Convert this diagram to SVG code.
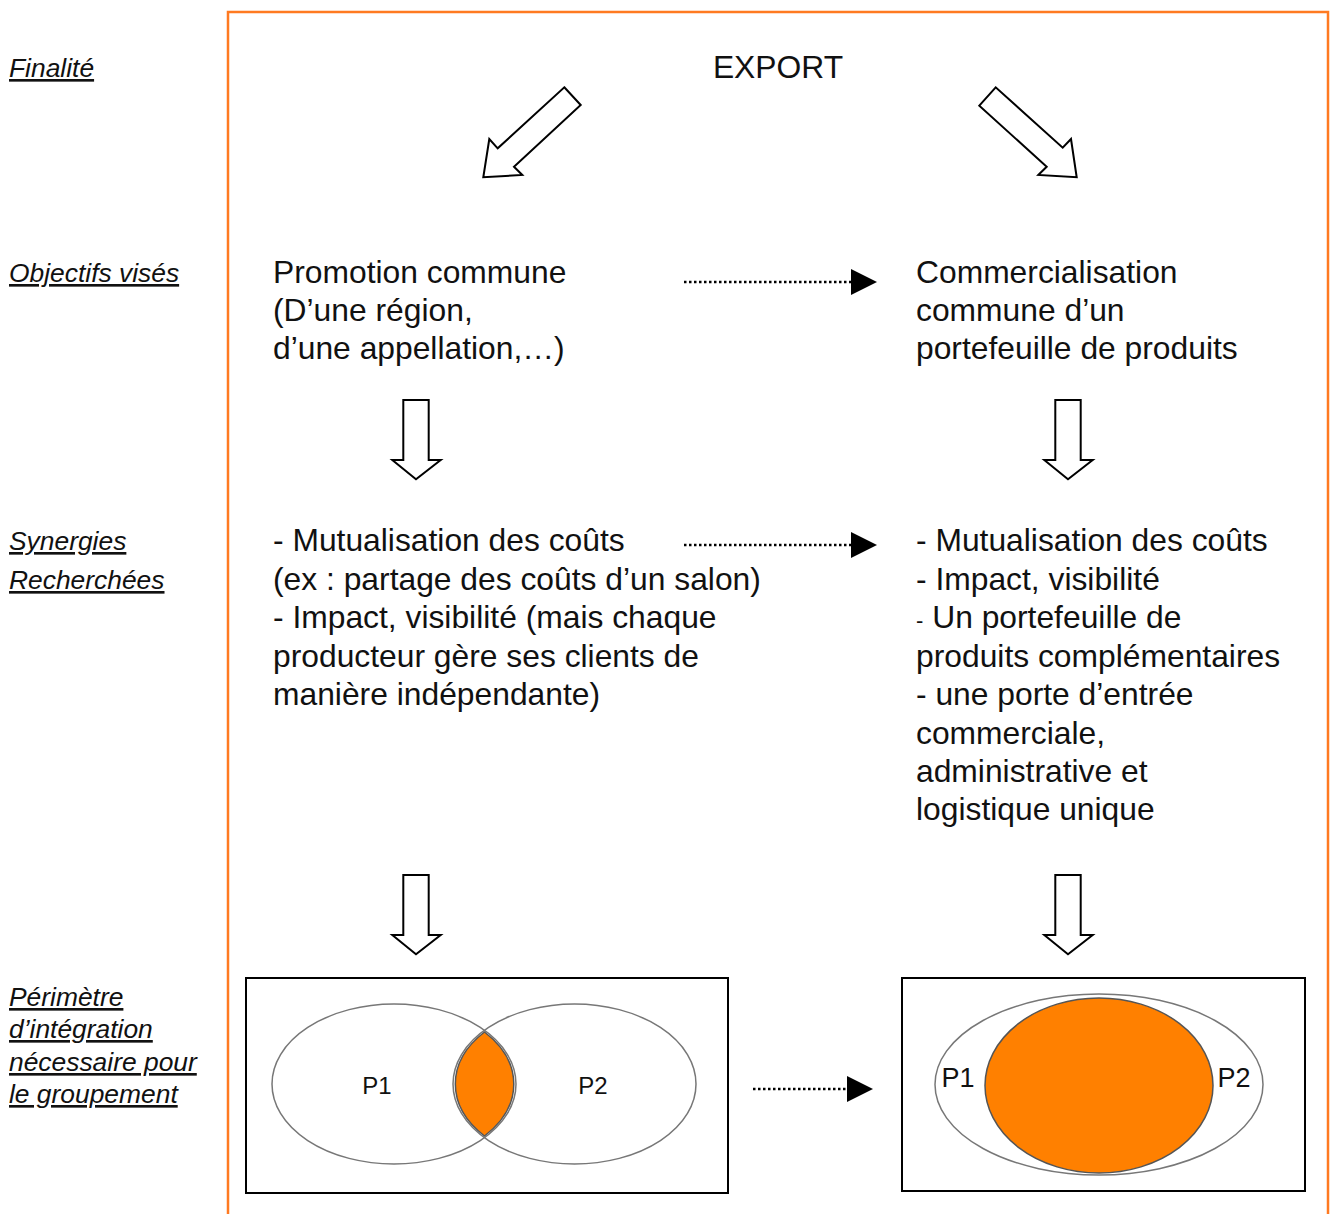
<svg xmlns="http://www.w3.org/2000/svg" width="1333" height="1214" viewBox="0 0 1333 1214">
<style>
.lbl{font-family:"Liberation Sans",Arial,sans-serif;font-size:26.4px;font-style:italic;fill:#111;text-decoration:underline;}
.main{font-family:"Liberation Sans",Arial,sans-serif;font-size:31.8px;fill:#111;}
.p{font-family:"Liberation Sans",Arial,sans-serif;font-size:24px;fill:#111;}
.p2{font-family:"Liberation Sans",Arial,sans-serif;font-size:27px;fill:#111;}
.blk{fill:#fff;stroke:#000;stroke-width:2;stroke-linejoin:miter;}
.dot{fill:none;stroke:#000;stroke-width:2.5;stroke-dasharray:2.5 2.5;}
.box{fill:#fff;stroke:#000;stroke-width:2;}
.ell{fill:none;stroke:#777;stroke-width:1.5;}
.lens{fill:#FF8000;stroke:#555;stroke-width:1.5;}
</style>
<defs>
<marker id="tri" viewBox="0 0 26 26" refX="0" refY="13" markerWidth="26" markerHeight="26" markerUnits="userSpaceOnUse" orient="auto">
<path d="M0,0 L26,13 L0,26 Z" fill="#000"/>
</marker>
</defs>
<rect width="1333" height="1214" fill="#fff"/>
<rect id="frame" x="228" y="12" width="1100" height="1260" fill="none" stroke="#FF7A21" stroke-width="2.5"/>

<g id="labels">
<text class="lbl" x="9" y="77">Finalité</text>
<text class="lbl" x="9" y="282">Objectifs visés</text>
<text class="lbl" x="9" y="550">Synergies</text>
<text class="lbl" x="9" y="589">Recherchées</text>
<text class="lbl" x="9" y="1006">Périmètre</text>
<text class="lbl" x="9" y="1038">d’intégration</text>
<text class="lbl" x="9" y="1071">nécessaire pour</text>
<text class="lbl" x="9" y="1103">le groupement</text>
</g>

<g id="export"><text class="main" x="778" y="78" text-anchor="middle">EXPORT</text></g>

<g id="promotion">
<text class="main" x="273" y="283">Promotion commune</text>
<text class="main" x="273" y="321">(D’une région,</text>
<text class="main" x="273" y="359">d’une appellation,…)</text>
</g>

<g id="commercialisation">
<text class="main" x="916" y="283">Commercialisation</text>
<text class="main" x="916" y="321">commune d’un</text>
<text class="main" x="916" y="359">portefeuille de produits</text>
</g>

<g id="synergies-left">
<text class="main" x="273" y="551">- Mutualisation des coûts</text>
<text class="main" x="273" y="590">(ex : partage des coûts d’un salon)</text>
<text class="main" x="273" y="628">- Impact, visibilité (mais chaque</text>
<text class="main" x="273" y="667">producteur gère ses clients de</text>
<text class="main" x="273" y="705">manière indépendante)</text>
</g>

<g id="synergies-right">
<text class="main" x="916" y="551">- Mutualisation des coûts</text>
<text class="main" x="916" y="590">- Impact, visibilité</text>
<text class="main" x="916" y="628"><tspan font-size="22">-</tspan> Un portefeuille de</text>
<text class="main" x="916" y="667">produits complémentaires</text>
<text class="main" x="916" y="705">- une porte d’entrée</text>
<text class="main" x="916" y="744">commerciale,</text>
<text class="main" x="916" y="782">administrative et</text>
<text class="main" x="916" y="820">logistique unique</text>
</g>

<g id="perimetre-left">
<rect class="box" x="246" y="978" width="482" height="215"/>
<path class="lens" d="M484.5,1032 A121.5,80 0 0 0 484.5,1136 A122,80 0 0 0 484.5,1032 Z"/>
<ellipse class="ell" cx="394" cy="1084" rx="122" ry="80"/>
<ellipse class="ell" cx="574.5" cy="1084" rx="121.5" ry="80"/>
<text class="p" x="377" y="1094" text-anchor="middle">P1</text>
<text class="p" x="593" y="1094" text-anchor="middle">P2</text>
</g>

<g id="perimetre-right">
<rect class="box" x="902" y="978" width="403" height="213"/>
<ellipse class="ell" cx="1099" cy="1084.5" rx="164" ry="90.5"/>
<ellipse class="lens" cx="1099" cy="1085.5" rx="114" ry="87.5"/>
<text class="p2" x="958" y="1087" text-anchor="middle">P1</text>
<text class="p2" x="1234" y="1087" text-anchor="middle">P2</text>
</g>

<g id="connectors">
<path class="blk" d="M564.3,87.3 L580.7,105 L514,166.7 L522.3,175 L483.3,177.3 L489.3,139 L497.7,148.3 Z"/>
<path class="blk" d="M995.7,87.3 L979.3,105.7 L1046.7,166.7 L1038.3,175 L1076.7,177.3 L1071,139 L1062.7,147.7 Z"/>
<path class="blk" d="M403.3,400 L428.7,400 L428.7,460 L440.7,460 L416,479.3 L392.3,460 L403.3,460 Z"/>
<path class="blk" d="M1055.3,400 L1080.7,400 L1080.7,460 L1092.7,460 L1068,479.3 L1044.3,460 L1055.3,460 Z"/>
<path class="blk" d="M403.3,875 L428.7,875 L428.7,935 L440.7,935 L416,954.3 L392.3,935 L403.3,935 Z"/>
<path class="blk" d="M1055.3,875 L1080.7,875 L1080.7,935 L1092.7,935 L1068,954.3 L1044.3,935 L1055.3,935 Z"/>
<path class="dot" d="M684,282 L851,282" marker-end="url(#tri)"/>
<path class="dot" d="M684,545 L851,545" marker-end="url(#tri)"/>
<path class="dot" d="M753,1089 L847,1089" marker-end="url(#tri)"/>
</g>
</svg>
